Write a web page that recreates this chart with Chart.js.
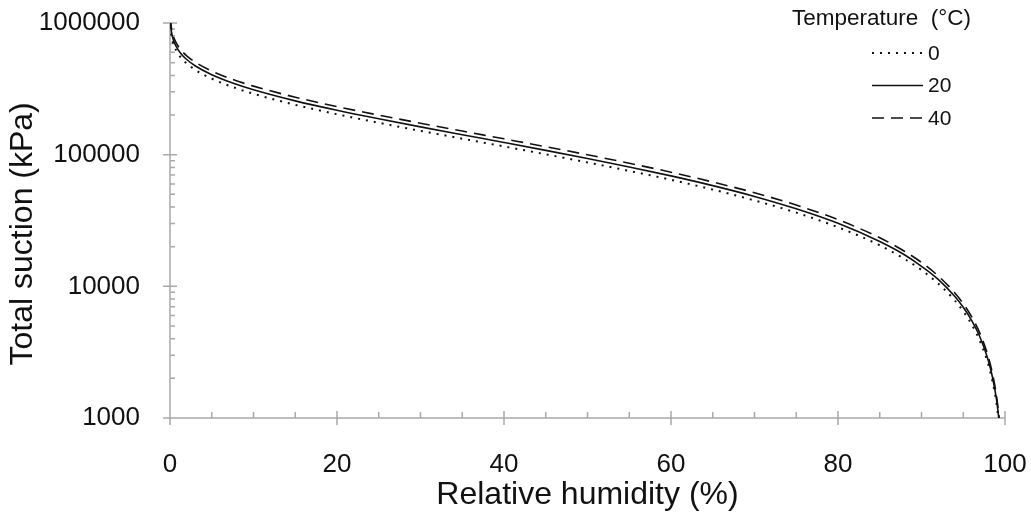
<!DOCTYPE html>
<html>
<head>
<meta charset="utf-8">
<script src="https://cdn.jsdelivr.net/npm/chart.js@4"></script>
<style>
  html, body { margin: 0; background: #fff; }
</style>
</head>
<body>
<canvas id="chart" width="1031" height="515"></canvas>
<script>
// Relative humidity (%) and total suction (kPa)
const humidity = [0.05, 0.1, 0.2, 0.3, 0.5, 1, 1.5, 2, 3, 5, 7.5, 10, 15, 20, 25, 30, 35, 40, 45, 50, 55, 60, 65, 70, 75, 80, 85, 88, 90, 92, 94, 95, 96, 97, 98, 98.5, 99, 99.35];
const suction0 = [958000, 870400, 783000, 732000, 667600, 580300, 529000, 492900, 441800, 377500, 326400, 290100, 239000, 202800, 174700, 151700, 132300, 115500, 100600, 87300, 75300, 64400, 54300, 44900, 36300, 28100, 20500, 16100, 13300, 10500, 7800, 6460, 5140, 3840, 2550, 1900, 1270, 822];
const suction20 = [1026000, 932600, 839000, 784000, 715300, 621700, 567000, 528100, 473400, 404400, 349700, 310900, 256100, 217300, 187200, 162500, 141700, 123700, 107800, 93600, 80700, 69000, 58200, 48200, 38800, 30100, 21900, 17300, 14200, 11300, 8360, 6930, 5510, 4120, 2730, 2040, 1360, 880];
const suction40 = [1095000, 994700, 894900, 837000, 763000, 663100, 605000, 563300, 505000, 431400, 373000, 331600, 273200, 231800, 199600, 173400, 151200, 131900, 115000, 99800, 86100, 73600, 62000, 51400, 41400, 32100, 23400, 18400, 15200, 12000, 8910, 7390, 5880, 4390, 2910, 2170, 1450, 939];

const temperatures = ['0', '20', '40'];
const legendTitle = 'Temperature  (°C)';
const yTickValues = [1000, 10000, 100000, 1000000];
const xTickStep = 20;
const xMinorStep = 5;

const FONT = '"Liberation Sans", Arial, sans-serif';
const AXIS_GREY = '#a9a9a9';

function points(ys) {
  return humidity.map((h, i) => ({ x: h, y: ys[i] }));
}

// axis lines with major ticks crossing the axis and small inside minor ticks
const axesPlugin = {
  id: 'axesTicks',
  beforeDatasetsDraw(chart) {
    const { ctx, chartArea: a, scales: { x, y } } = chart;
    ctx.save();
    ctx.strokeStyle = AXIS_GREY;
    ctx.lineWidth = 1.5;
    ctx.beginPath();
    ctx.moveTo(a.left, a.top);
    ctx.lineTo(a.left, a.bottom);
    ctx.lineTo(a.right, a.bottom);
    for (let v = x.min; v <= x.max; v += xMinorStep) {
      const px = x.getPixelForValue(v);
      if (v % xTickStep === 0) {
        ctx.moveTo(px, a.bottom - 7);
        ctx.lineTo(px, a.bottom + 7);
      } else {
        ctx.moveTo(px, a.bottom - 6);
        ctx.lineTo(px, a.bottom);
      }
    }
    yTickValues.forEach(d => {
      const py = y.getPixelForValue(d);
      ctx.moveTo(a.left - 7, py);
      ctx.lineTo(a.left + 7, py);
      for (let m = 2; m <= 9; m++) {
        if (d * m > y.max) break;
        const pm = y.getPixelForValue(d * m);
        ctx.moveTo(a.left, pm);
        ctx.lineTo(a.left + 5, pm);
      }
    });
    ctx.stroke();
    ctx.restore();
  }
};

const legendPlugin = {
  id: 'tempLegend',
  afterDraw(chart) {
    const ctx = chart.ctx;
    ctx.save();
    ctx.fillStyle = '#111';
    ctx.textBaseline = 'middle';
    ctx.font = '22.5px ' + FONT;
    ctx.fillText(legendTitle, 792, 19);
    chart.data.datasets.forEach((ds, i) => {
      const ly = 53 + i * 32.5;
      ctx.strokeStyle = ds.borderColor;
      ctx.lineWidth = ds.borderWidth;
      ctx.setLineDash(ds.borderDash || []);
      ctx.beginPath();
      ctx.moveTo(872, ly);
      ctx.lineTo(923, ly);
      ctx.stroke();
      ctx.setLineDash([]);
      ctx.font = '21px ' + FONT;
      ctx.fillText(ds.label, 928, ly + 1);
    });
    ctx.restore();
  }
};

const ctx = document.getElementById('chart').getContext('2d');
new Chart(ctx, {
  type: 'line',
  data: {
    datasets: [
      { label: temperatures[0], data: points(suction0), borderColor: '#111', borderWidth: 2, borderDash: [2, 6] },
      { label: temperatures[1], data: points(suction20), borderColor: '#111', borderWidth: 1.6 },
      { label: temperatures[2], data: points(suction40), borderColor: '#111', borderWidth: 1.6, borderDash: [12, 7] }
    ]
  },
  options: {
    responsive: false,
    animation: false,
    devicePixelRatio: 1,
    layout: { padding: { top: 23, right: 26, left: 0, bottom: 0 } },
    elements: { point: { radius: 0 }, line: { cubicInterpolationMode: 'monotone' } },
    plugins: { legend: { display: false }, tooltip: { enabled: false } },
    scales: {
      x: {
        type: 'linear',
        min: 0,
        max: 100,
        grid: { display: false },
        border: { display: false },
        ticks: { stepSize: xTickStep, padding: 23, color: '#111', font: { family: FONT, size: 26 } },
        title: { display: true, text: 'Relative humidity (%)', color: '#111', font: { family: FONT, size: 32 }, padding: { top: 0, bottom: 1 } },
        afterFit(s) { s.height = 97; s.paddingLeft = 0; s.paddingRight = 0; }
      },
      y: {
        type: 'logarithmic',
        min: 1000,
        max: 1000000,
        grid: { display: false },
        border: { display: false },
        afterBuildTicks(s) { s.ticks = yTickValues.map(v => ({ value: v, major: true })); },
        ticks: { padding: 22, color: '#111', font: { family: FONT, size: 26 }, callback: v => String(v) },
        // trailing spaces nudge the rotated title down a little, as in the original
        title: { display: true, text: 'Total suction (kPa)   ', color: '#111', font: { family: FONT, size: 32 }, padding: { top: 4, bottom: 0 } },
        afterFit(s) { s.width = 170; s.paddingTop = 0; s.paddingBottom = 0; }
      }
    }
  },
  plugins: [axesPlugin, legendPlugin]
});
</script>
</body>
</html>
